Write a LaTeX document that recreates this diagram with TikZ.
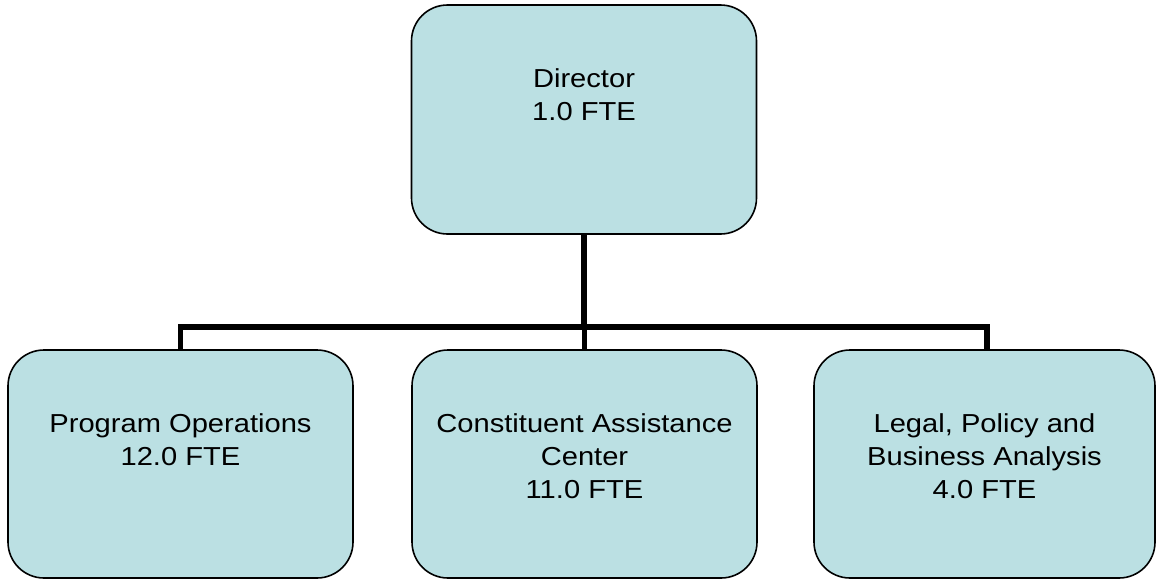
\documentclass[tikz,border=0pt]{standalone}
\usepackage{fontspec}
\setmainfont[FakeStretch=1.12]{Liberation Sans}
\definecolor{boxfill}{RGB}{187,224,227}
\begin{document}
\begin{tikzpicture}[x=1pt,y=-1pt,
  unitbox/.style={draw=black, line width=1.6pt, fill=boxfill, rounded corners=36pt,
    minimum width=345pt, minimum height=228pt, inner sep=0pt},
  unitlabel/.style={anchor=base, align=center, inner sep=0pt,
    font=\fontsize{26pt}{33pt}\selectfont},
  conn/.style={draw=black, line width=5.5pt, line join=miter}]
\useasboundingbox (0,0) rectangle (1157,581);

% boxes
\node[unitbox, minimum height=229pt] (dir)   at (584,119.5) {};
\node[unitbox] (prog)  at (180.5,464) {};
\node[unitbox] (cac)   at (584.5,464) {};
\node[unitbox, minimum width=341pt] (legal) at (984.5,464) {};

% texts: first baseline 83pt below the top edge, lines 33pt apart
% (the base anchor sits on the last line)
\node[unitlabel] (dirtext)   at ([yshift=-116pt]dir.north)   {Director\\1.0 FTE};
\node[unitlabel] (progtext)  at ([yshift=-116pt]prog.north)  {Program Operations\\12.0 FTE};
\node[unitlabel] (cactext)   at ([yshift=-149pt]cac.north)   {Constituent Assistance\\Center\\11.0 FTE};
\node[unitlabel] (legaltext) at ([yshift=-149pt]legal.north) {Legal, Policy and\\Business Analysis\\4.0 FTE};

% connectors
\coordinate (bus) at (584,327);
\draw[conn] (dir.south) -- (dir.south |- bus);
\draw[conn] (prog.north) -- (prog.north |- bus) -| ([xshift=2.5pt]legal.north);
\draw[conn] (cac.north) -- (cac.north |- bus);
\end{tikzpicture}
\end{document}
